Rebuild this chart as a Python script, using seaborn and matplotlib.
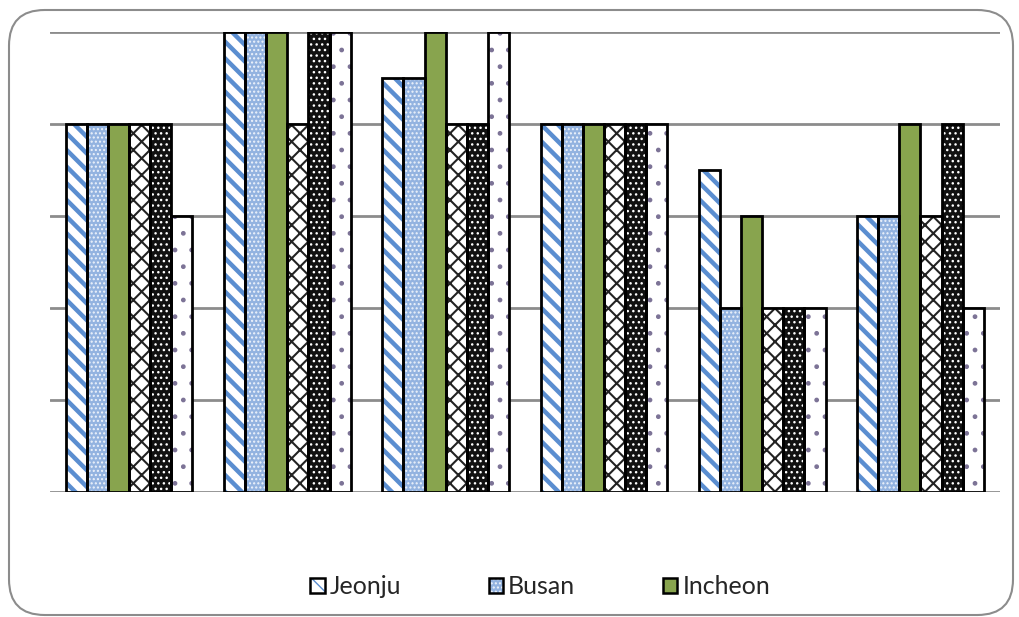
import matplotlib
matplotlib.use("Agg")
import matplotlib.pyplot as plt
import seaborn as sns
import pandas as pd
from matplotlib.patches import Rectangle, FancyBboxPatch, Patch
from matplotlib.legend_handler import HandlerTuple

# ---- data -------------------------------------------------------------
groups = ["G1", "G2", "G3", "G4", "G5", "G6"]
series = ["Jeonju", "Busan", "Incheon", "S4", "S5", "S6"]
jeonju = [4, 5, 4.5, 4, 3.5, 3]
busan = [4, 5, 4.5, 4, 2, 3]
incheon = [4, 5, 5, 4, 3, 4]
s4 = [4, 4, 4, 4, 2, 3]
s5 = [4, 5, 4, 4, 2, 4]
s6 = [3, 5, 5, 4, 2, 2]
legend_series = ["Jeonju", "Busan", "Incheon"]

values = [jeonju, busan, incheon, s4, s5, s6]
df = pd.DataFrame(
    [(g, s, v) for s, vals in zip(series, values) for g, v in zip(groups, vals)],
    columns=["group", "series", "value"],
)

# ---- styles: (face, hatch, hatch colour) ------------------------------
styles = {
    "Jeonju": ("white", "\\\\", "#5B8ED0"),
    "Busan": ("#93B3E0", "....", "#EEF3FB"),
    "Incheon": ("#88A44E", "", "#88A44E"),
    "S4": ("white", "xx", "#222222"),
    "S5": ("#111111", "...", "white"),
    "S6": ("white", ".", "#7C7396"),
}
hatch_lw = {"Jeonju": 3.2, "Busan": 1.0, "Incheon": 1.0, "S4": 1.5, "S5": 1.0, "S6": 1.0}

sns.set_theme(style="white")
plt.rcParams["font.family"] = ["Lato", "DejaVu Sans"]

fig = plt.figure(figsize=(10.19, 6.17), dpi=100)
ax = fig.add_axes([0.049, 0.2026, 0.932, 0.7455])

sns.barplot(data=df, x="group", y="value", hue="series", order=groups,
            hue_order=series, width=0.8, ax=ax, legend=False, errorbar=None,
            palette=["white"] * 6, saturation=1)

for name, cont in zip(series, ax.containers):
    face, hatch, hcol = styles[name]
    for p in cont.patches:
        plt.rcParams["hatch.linewidth"] = hatch_lw[name]
        p.set_facecolor(face)
        p.set_edgecolor(hcol)
        p.set_linewidth(0)
        p.set_hatch(hatch)
        if hasattr(p, "set_hatch_linewidth"):
            p.set_hatch_linewidth(hatch_lw[name])
        # black outline on top of the patterned fill
        ax.add_patch(Rectangle((p.get_x(), p.get_y()), p.get_width(), p.get_height(),
                               fill=False, edgecolor="black", linewidth=2.0, zorder=3))

ax.set_ylim(0, 5)
ax.set_yticks(range(0, 6))
ax.yaxis.grid(True, color="#8C8C8C", linewidth=2.0, zorder=0)
ax.set_axisbelow(True)
ax.tick_params(left=False, bottom=False, labelleft=False, labelbottom=False)
ax.set_xlabel("")
ax.set_ylabel("")
for s in ax.spines.values():
    s.set_visible(False)

# ---- legend -----------------------------------------------------------
handles = []
for name in legend_series:
    face, hatch, hcol = styles[name]
    fillp = Patch(facecolor=face, edgecolor=hcol, hatch=hatch, linewidth=0)
    edge = Patch(facecolor="none", edgecolor="black", linewidth=1.8)
    handles.append((fillp, edge))
fig.legend(handles, legend_series, loc="center", bbox_to_anchor=(0.53, 0.049),
           ncol=3, frameon=False, fontsize=18, handlelength=0.58, handleheight=0.58,
           handletextpad=0.2, columnspacing=3.5,
           handler_map={tuple: HandlerTuple(ndivide=1, pad=0)})

# ---- rounded chart frame ----------------------------------------------
W, H = 1019, 617
frame = FancyBboxPatch((9 / W, 2 / H), 1004 / W, 605 / H,
                       boxstyle="round,pad=0,rounding_size=0.035",
                       transform=fig.transFigure, facecolor="none",
                       edgecolor="#8C8C8C", linewidth=1.5, mutation_aspect=W / H)
fig.add_artist(frame)

fig.savefig("out.png", dpi=100)
